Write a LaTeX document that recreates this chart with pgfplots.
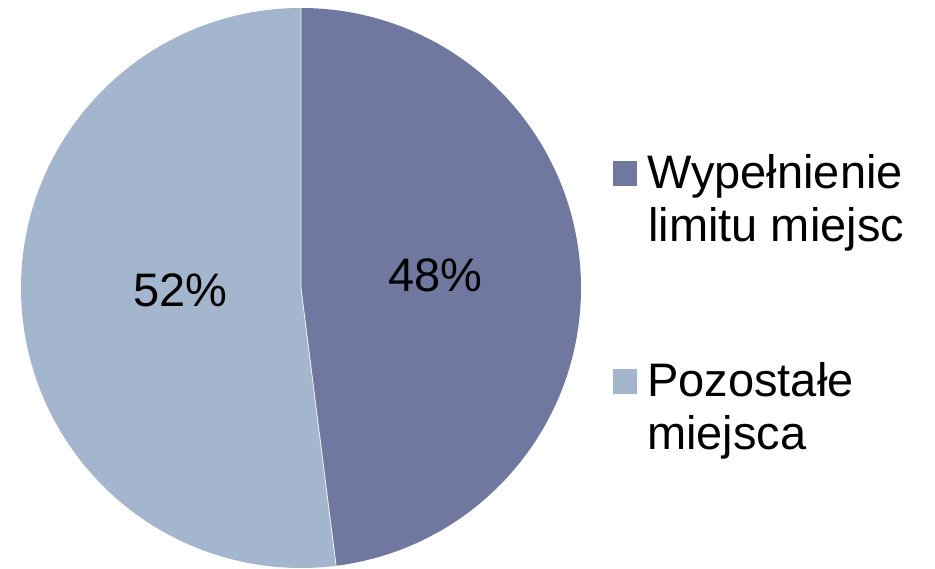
\documentclass[border=0pt]{standalone}
\usepackage{pgfplots}
\usepackage{pgfplotstable}
\pgfplotsset{compat=1.18}
\usepackage{fontspec}
\setmainfont{Liberation Sans}
\definecolor{sliceA}{RGB}{112,120,160}
\definecolor{sliceB}{RGB}{163,182,205}
\pgfplotstableread{
idx value
0 48
1 52
}\piedata
\pgfplotstablegetelem{0}{value}\of\piedata
\let\valA\pgfplotsretval
\pgfplotstablegetelem{1}{value}\of\piedata
\let\valB\pgfplotsretval
\pgfmathsetmacro\angA{90-3.6*\valA}
\begin{document}
\begin{tikzpicture}
\path[use as bounding box] (0pt,0pt) rectangle (935pt,568pt);
\begin{axis}[
  at={(21pt,0pt)}, anchor=south west,
  scale only axis, width=560pt, height=560pt,
  xmin=-1, xmax=1, ymin=-1, ymax=1,
  hide axis, clip=false,
]
\fill[sliceA] (axis cs:0,0) -- (axis cs:0,1) arc[start angle=90, end angle=\angA, radius=1] -- cycle;
\fill[sliceB] (axis cs:0,0) -- (axis cs:0,1) arc[start angle=90, end angle=\angA+360, radius=1] -- cycle;
\draw[white!85!sliceB, line width=0.8pt] (axis cs:0,1) -- (axis cs:0,0) -- ({cos(\angA)},{sin(\angA)});
\node[font=\fontsize{47}{56}\selectfont] at (axis cs:0.479,0.046) {\valA\%};
\node[font=\fontsize{47}{56}\selectfont] at (axis cs:-0.432,-0.007) {\valB\%};
\end{axis}
\fill[sliceA] (613pt,382pt) rectangle (637pt,407pt);
\fill[sliceB] (613pt,174pt) rectangle (637pt,199pt);
\begin{scope}[every node/.style={anchor=base west, inner sep=0pt, font=\fontsize{47}{56}\selectfont}]
\node at (647pt,379pt) {Wypełnienie};
\node at (648pt,326pt) {limitu miejsc};
\node at (647pt,171pt) {Pozostałe};
\node at (647pt,118pt) {miejsca};
\end{scope}
\end{tikzpicture}
\end{document}
